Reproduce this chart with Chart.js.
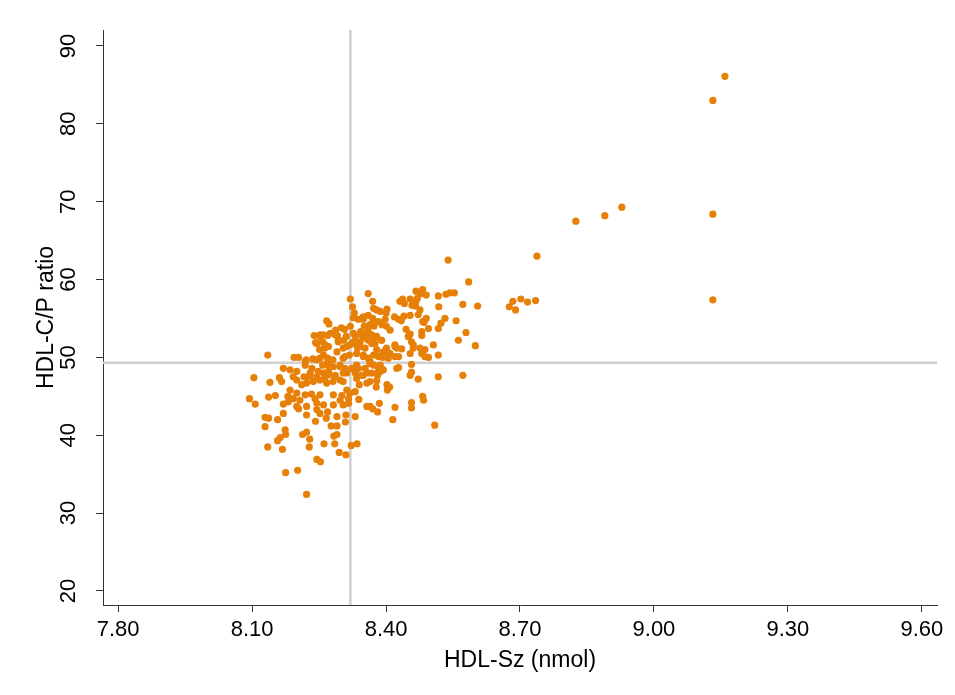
<!DOCTYPE html>
<html>
<head>
<meta charset="utf-8">
<title>HDL-Sz vs HDL-C/P ratio</title>
<script src="https://cdn.jsdelivr.net/npm/chart.js@4.4.1/dist/chart.umd.min.js"></script>
<style>
  html, body { margin: 0; padding: 0; background: #ffffff; }
  #grafica { display: block; }
</style>
</head>
<body>
<canvas id="grafica" width="955" height="695"></canvas>
<script>
// Ticks de los ejes
var ticksX = [7.80, 8.10, 8.40, 8.70, 9.00, 9.30, 9.60];
var ticksY = [20, 30, 40, 50, 60, 70, 80, 90];

// Líneas de referencia (medias)
var mediaX = 8.32;
var mediaY = 49.3;

// Puntos [HDL-Sz, HDL-C/P]
var puntos = [
  // valores extremos
  [9.159, 86.1], [9.132, 83.0], [9.132, 68.4], [9.132, 57.4], [8.928, 69.3],
  [8.890, 68.2], [8.825, 67.5], [8.738, 63.0],
  [8.684, 57.2], [8.702, 57.5], [8.717, 57.1], [8.735, 57.3], [8.676, 56.5], [8.690, 56.1],
  // parte alta del grupo
  [8.320, 57.5], [8.325, 56.5], [8.329, 55.7], [8.327, 55.1], [8.338, 54.9], [8.349, 54.9],
  [8.360, 58.2], [8.360, 55.4], [8.267, 54.7], [8.272, 54.3], [8.320, 54.0], [8.300, 53.8],
  [8.307, 53.6], [8.287, 53.5], [8.275, 53.1], [8.259, 52.9], [8.351, 54.0], [8.360, 54.0],
  [8.343, 53.3], [8.358, 53.2],
  [8.539, 62.5], [8.585, 59.7], [8.605, 56.6], [8.572, 56.8], [8.517, 57.9], [8.518, 56.5],
  [8.534, 58.1], [8.543, 58.3], [8.553, 58.3], [8.467, 58.5], [8.482, 58.7], [8.490, 58.0],
  [8.478, 58.2], [8.431, 57.2], [8.437, 57.5], [8.441, 56.9], [8.454, 57.5], [8.458, 56.7],
  [8.467, 57.2], [8.470, 57.6], [8.466, 56.6], [8.476, 56.1], [8.472, 55.5], [8.454, 55.4],
  [8.440, 55.3], [8.419, 55.2], [8.428, 54.9], [8.434, 54.7], [8.370, 57.2], [8.372, 56.3],
  [8.379, 56.1], [8.387, 55.9], [8.402, 56.2], [8.400, 55.7], [8.370, 55.0], [8.383, 54.6],
  [8.398, 54.9], [8.373, 54.0], [8.391, 54.2], [8.409, 53.5], [8.445, 53.6], [8.482, 54.6],
  [8.490, 55.0], [8.485, 54.5], [8.495, 53.7], [8.480, 53.3], [8.517, 53.7], [8.532, 55.0],
  [8.523, 54.4], [8.557, 54.7], [8.579, 53.2], [8.454, 53.0],
  [8.349, 55.2], [8.375, 54.6], [8.364, 54.2], [8.401, 54.0],
  // parte derecha central
  [8.372, 52.5], [8.379, 52.7], [8.368, 51.8], [8.390, 52.2], [8.420, 51.6], [8.424, 51.2],
  [8.435, 51.1], [8.450, 52.7], [8.457, 52.0], [8.461, 51.2], [8.454, 50.5], [8.476, 51.2],
  [8.487, 51.0], [8.480, 50.5], [8.506, 51.6], [8.517, 50.3], [8.562, 52.2], [8.600, 51.5],
  [8.379, 51.0], [8.394, 50.7], [8.402, 50.8], [8.409, 50.5], [8.420, 50.1], [8.428, 50.1],
  [8.405, 49.9], [8.393, 50.0], [8.372, 50.3], [8.383, 50.1], [8.487, 50.1], [8.495, 50.0],
  [8.364, 49.5], [8.373, 49.0], [8.387, 49.0], [8.394, 48.4], [8.383, 48.2], [8.381, 47.7],
  [8.428, 48.7], [8.457, 49.1], [8.457, 48.1], [8.472, 47.2], [8.517, 47.5], [8.572, 47.7],
  [8.379, 47.0], [8.364, 46.9], [8.378, 46.2], [8.402, 46.5], [8.408, 46.2], [8.403, 45.8],
  [8.482, 45.0], [8.484, 44.5], [8.385, 44.1], [8.457, 44.2], [8.457, 43.5], [8.420, 43.6],
  [8.364, 43.7], [8.370, 43.4], [8.381, 43.0], [8.415, 42.0], [8.480, 52.8], [8.509, 41.3],
  [8.327, 53.1], [8.360, 53.3], [8.368, 52.9], [8.353, 52.5], [8.372, 52.2], [8.331, 51.8],
  [8.342, 51.4], [8.375, 51.8], [8.390, 52.2], [8.401, 51.2], [8.420, 51.4], [8.450, 52.7],
  [8.461, 51.6], [8.349, 50.3], [8.379, 50.3], [8.394, 50.1], [8.334, 49.0], [8.364, 49.2],
  [8.383, 48.8], [8.424, 48.6], [8.349, 47.7], [8.368, 48.0], [8.387, 48.2], [8.334, 47.3],
  [8.454, 47.7],
  // parte izquierda central
  [8.239, 52.8], [8.252, 52.7], [8.269, 52.8], [8.291, 52.8], [8.311, 52.7], [8.331, 52.7],
  [8.346, 52.8], [8.258, 52.0], [8.242, 51.9], [8.293, 52.2], [8.305, 52.2], [8.325, 51.9],
  [8.342, 52.0], [8.360, 52.2], [8.251, 51.0], [8.263, 51.2], [8.271, 51.4], [8.304, 51.2],
  [8.319, 51.6], [8.336, 51.2], [8.353, 51.2], [8.194, 50.0], [8.204, 50.0], [8.135, 50.3],
  [8.221, 49.7], [8.236, 49.8], [8.252, 49.9], [8.269, 49.9], [8.281, 49.7], [8.304, 49.9],
  [8.318, 50.3], [8.334, 50.5], [8.349, 50.1], [8.360, 49.9], [8.170, 48.6], [8.185, 48.4],
  [8.219, 49.0], [8.234, 48.6], [8.258, 49.0], [8.271, 49.0], [8.282, 48.8], [8.297, 49.0],
  [8.308, 48.6], [8.323, 48.6], [8.338, 48.6], [8.353, 48.6], [8.104, 47.4], [8.161, 47.4],
  [8.166, 46.9], [8.192, 47.5], [8.200, 47.1], [8.216, 47.5], [8.230, 47.7], [8.245, 47.5],
  [8.260, 48.0], [8.273, 47.8], [8.286, 47.7], [8.312, 48.0], [8.331, 48.0], [8.345, 47.7],
  [8.360, 48.0], [8.140, 46.8], [8.211, 46.5], [8.222, 46.7], [8.237, 46.9], [8.252, 47.1],
  [8.267, 46.7], [8.281, 46.9], [8.297, 47.1], [8.304, 46.9], [8.340, 46.5], [8.357, 46.7],
  [8.185, 45.8], [8.200, 45.4], [8.219, 45.2], [8.233, 45.3], [8.252, 45.2], [8.282, 45.2],
  [8.301, 45.1], [8.312, 45.8], [8.319, 45.4], [8.331, 45.6], [8.094, 44.7], [8.137, 44.9],
  [8.152, 45.1], [8.180, 45.0], [8.192, 44.7], [8.207, 44.5], [8.241, 44.7], [8.297, 44.5],
  [8.316, 44.7], [8.339, 44.6], [8.107, 44.0], [8.170, 44.0], [8.181, 44.3], [8.200, 43.7],
  [8.222, 43.7], [8.245, 44.1], [8.260, 43.9], [8.282, 43.9], [8.304, 43.9], [8.316, 44.1],
  [8.357, 43.7], [8.204, 43.4], [8.245, 43.3], [8.252, 42.8], [8.269, 43.0], [8.290, 42.4],
  [8.310, 42.6], [8.331, 42.4], [8.129, 42.3], [8.137, 42.2], [8.170, 42.8], [8.222, 42.6],
  [8.266, 42.2],
  [8.252, 52.9], [8.286, 52.9], [8.245, 51.8], [8.263, 51.6], [8.293, 52.0], [8.312, 51.4],
  [8.260, 50.3], [8.290, 50.7], [8.308, 50.1], [8.219, 49.5], [8.245, 49.7], [8.267, 49.2],
  [8.297, 48.8], [8.200, 48.2], [8.230, 48.0], [8.248, 48.2], [8.271, 48.2], [8.304, 48.0],
  [8.226, 47.5], [8.263, 47.3], [8.286, 47.5],
  // parte baja
  [8.157, 42.0], [8.242, 41.8], [8.129, 41.1], [8.174, 40.7], [8.175, 40.1], [8.213, 40.1],
  [8.222, 40.4], [8.277, 41.2], [8.290, 41.2], [8.309, 41.7], [8.157, 39.3], [8.163, 39.7],
  [8.229, 39.5], [8.283, 39.9], [8.290, 40.1], [8.135, 38.5], [8.168, 38.2], [8.228, 38.5],
  [8.261, 38.9], [8.285, 38.9], [8.295, 37.8], [8.310, 37.5], [8.322, 38.7], [8.335, 38.9],
  [8.245, 36.9], [8.253, 36.6], [8.175, 35.2], [8.202, 35.5], [8.222, 32.4]
];

// Límites de los ejes
var xMin = 7.766, xMax = 9.634;
var yMin = 18.2, yMax = 92.05;

var fuente = "'Liberation Sans', Arial, Helvetica, sans-serif";
var naranja = 'rgb(230, 128, 8)';
var gris = 'rgb(208, 208, 208)';
var colorEje = '#333333';

// Plugin para dibujar las etiquetas del eje Y giradas 90 grados
var etiquetasY = {
    id: 'etiquetasY',
    afterDraw: function(chart) {
        var ctx = chart.ctx;
        var escala = chart.scales.y;
        ctx.save();
        ctx.font = '22px ' + fuente;
        ctx.fillStyle = '#000000';
        ctx.textAlign = 'center';
        ctx.textBaseline = 'middle';
        escala.ticks.forEach(function(t) {
            var y = escala.getPixelForValue(t.value);
            ctx.save();
            ctx.translate(69, y);
            ctx.rotate(-Math.PI / 2);
            ctx.fillText(String(t.value), 0, 0);
            ctx.restore();
        });
        ctx.restore();
    }
};

var ctx = document.getElementById('grafica').getContext('2d');

var myChart = new Chart(ctx, {
    type: 'scatter',
    data: {
        datasets: [{
            label: 'HDL',
            data: puntos.map(function(p) { return { x: p[0], y: p[1] }; }),
            backgroundColor: naranja,
            borderWidth: 0,
            pointRadius: 3.6,
            order: 0
        }, {
            type: 'line',
            data: [{ x: mediaX, y: yMin }, { x: mediaX, y: yMax }],
            borderColor: gris,
            borderWidth: 2.5,
            pointRadius: 0,
            order: 1
        }, {
            type: 'line',
            data: [{ x: xMin, y: mediaY }, { x: xMax, y: mediaY }],
            borderColor: gris,
            borderWidth: 2.5,
            pointRadius: 0,
            order: 1
        }]
    },
    options: {
        responsive: false,
        animation: false,
        layout: { padding: { top: 30, right: 18, left: 0, bottom: 0 } },
        plugins: {
            legend: { display: false },
            tooltip: { enabled: false }
        },
        scales: {
            x: {
                type: 'linear',
                position: 'bottom',
                min: xMin,
                max: xMax,
                afterBuildTicks: function(scale) {
                    scale.ticks = ticksX.map(function(v) { return { value: v }; });
                },
                afterFit: function(scale) {
                    scale.height = 90;
                    scale.paddingLeft = 0;
                    scale.paddingRight = 0;
                },
                grid: { display: true, drawOnChartArea: false, drawTicks: true, tickLength: 7, color: colorEje },
                border: { display: true, color: colorEje, width: 1 },
                ticks: {
                    maxRotation: 0,
                    autoSkip: false,
                    padding: 5,
                    color: '#000000',
                    font: { family: fuente, size: 22 },
                    callback: function(v) { return Number(v).toFixed(2); }
                },
                title: {
                    display: true,
                    text: 'HDL-Sz (nmol)',
                    color: '#000000',
                    font: { family: fuente, size: 23 },
                    padding: { top: 0, bottom: 21 }
                }
            },
            y: {
                type: 'linear',
                position: 'left',
                min: yMin,
                max: yMax,
                afterBuildTicks: function(scale) {
                    scale.ticks = ticksY.map(function(v) { return { value: v }; });
                },
                afterFit: function(scale) {
                    scale.width = 103;
                    scale.paddingTop = 0;
                    scale.paddingBottom = 0;
                },
                grid: { display: true, drawOnChartArea: false, drawTicks: true, tickLength: 7, color: colorEje },
                border: { display: true, color: colorEje, width: 1 },
                ticks: { display: false },
                title: {
                    display: true,
                    text: 'HDL-C/P ratio',
                    color: '#000000',
                    font: { family: fuente, size: 23 },
                    padding: { top: 33, bottom: 0 }
                }
            }
        }
    },
    plugins: [etiquetasY]
});
</script>
</body>
</html>
